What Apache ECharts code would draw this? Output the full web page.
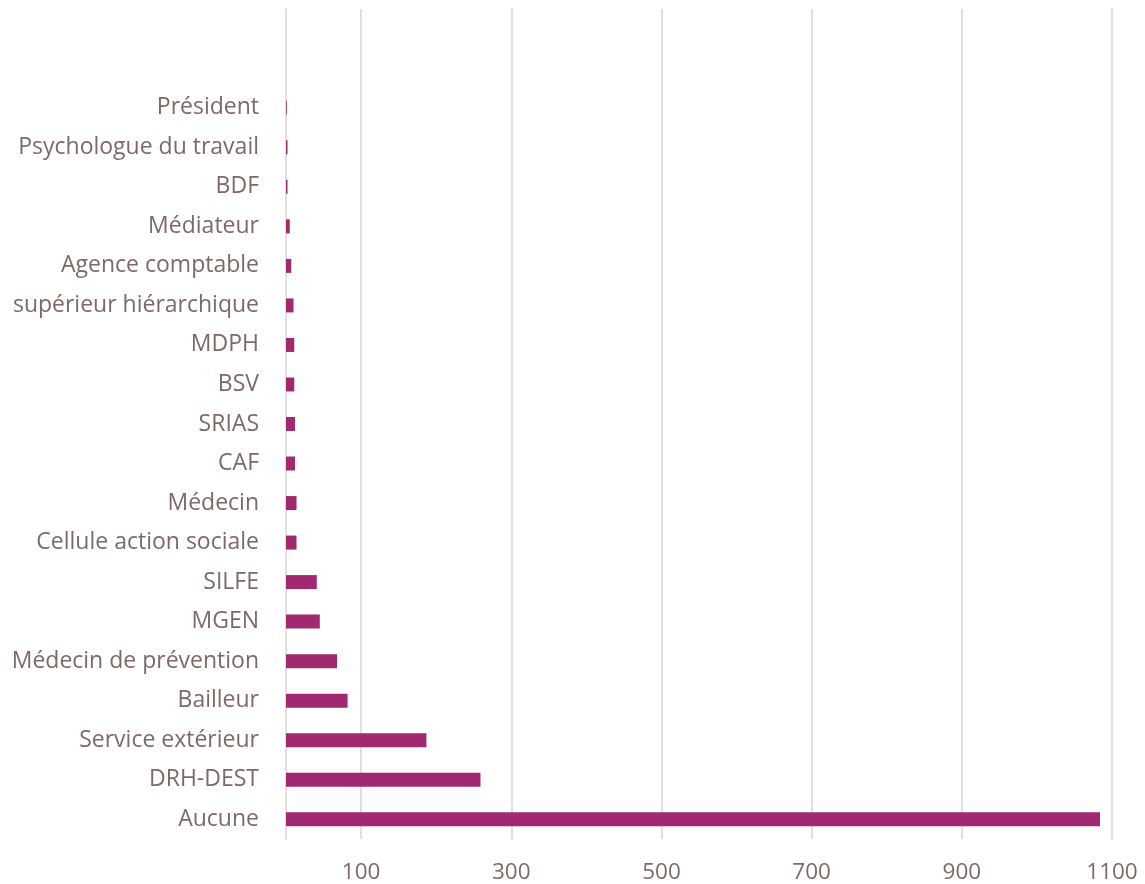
<!DOCTYPE html>
<html>
<head>
<meta charset="utf-8">
<script src="https://cdn.jsdelivr.net/npm/echarts@6/dist/echarts.min.js"></script>
<style>
  html, body { margin: 0; padding: 0; background: #fff; }
  #chart { width: 1145px; height: 884px; }
</style>
</head>
<body>
<div id="chart"></div>
<script>
// Interlocutors, top to bottom (two empty rows keep headroom above "Président")
const categories = [
  '', ' ',
  'Président', 'Psychologue du travail', 'BDF', 'Médiateur', 'Agence comptable',
  'supérieur hiérarchique', 'MDPH', 'BSV', 'SRIAS', 'CAF', 'Médecin',
  'Cellule action sociale', 'SILFE', 'MGEN', 'Médecin de prévention',
  'Bailleur', 'Service extérieur', 'DRH-DEST', 'Aucune'
];
const counts = [
  null, null,
  1, 2, 2, 5, 7,
  10, 11, 11, 12, 12, 14,
  14, 41, 45, 68,
  82, 187, 259, 1084
];
// Labelled ticks on the value axis
const tickLabels = [100, 300, 500, 700, 900, 1100];

const textColor = '#7d6a68';
const gridColor = '#d9d4d2';
const barColor = '#a0296f';
const font = '"Open Sans", "DejaVu Sans", sans-serif';

const chart = echarts.init(document.getElementById('chart'), null, { renderer: 'canvas' });
chart.setOption({
  animation: false,
  backgroundColor: '#ffffff',
  grid: { left: 286, right: 33, top: 9, bottom: 44, containLabel: false },
  xAxis: {
    type: 'value',
    min: 0,
    max: 1100,
    interval: 100,
    axisLine: { show: false },
    axisTick: { show: false },
    axisLabel: {
      color: textColor,
      fontFamily: font,
      fontSize: 22.5,
      margin: 22,
      formatter: v => (tickLabels.indexOf(v) >= 0 ? String(v) : '')
    },
    splitLine: {
      show: true,
      // every other line drawn: 100, 300, 500 ... 1100
      lineStyle: { color: ['transparent', gridColor], width: 1.5 }
    }
  },
  yAxis: {
    type: 'category',
    inverse: true,
    data: categories,
    axisLine: { show: true, lineStyle: { color: gridColor, width: 1.5 } },
    axisTick: { show: false },
    axisLabel: {
      color: textColor,
      fontFamily: font,
      fontSize: 23,
      margin: 27
    },
    splitLine: { show: false }
  },
  series: [{
    type: 'bar',
    data: counts,
    barWidth: 14,
    itemStyle: { color: barColor },
    silent: true
  }]
});
</script>
</body>
</html>
